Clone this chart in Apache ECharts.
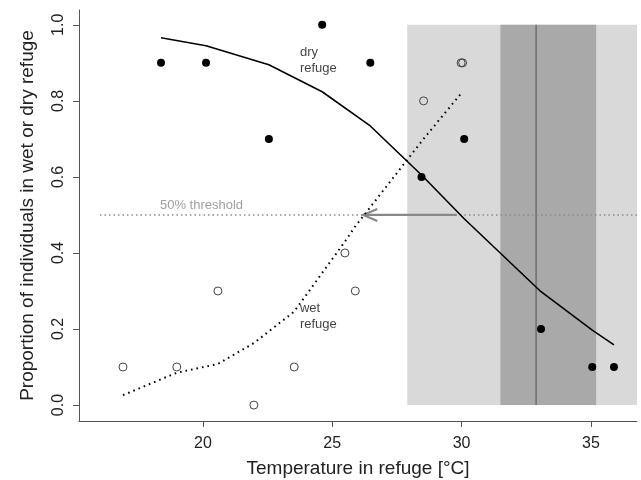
<!DOCTYPE html>
<html>
<head>
<meta charset="utf-8">
<script src="https://cdn.jsdelivr.net/npm/echarts@6/dist/echarts.min.js"></script>
<style>
  html, body { margin: 0; padding: 0; background: #fff; }
  #main { width: 641px; height: 480px; }
</style>
</head>
<body>
<div id="main"></div>
<script>
// observed proportions
const dryTemp = [18.38, 20.12, 22.55, 24.61, 26.47, 28.45, 30.10, 33.07, 35.05, 35.89]
const dryProp = [0.9, 0.9, 0.7, 1.0, 0.9, 0.6, 0.7, 0.2, 0.1, 0.1]
const wetTemp = [16.91, 18.99, 20.58, 21.97, 23.53, 25.49, 25.89, 28.53, 29.98, 30.04]
const wetProp = [0.1, 0.1, 0.3, 0.0, 0.1, 0.4, 0.3, 0.8, 0.9, 0.9]

// fitted curves (read at the data temperatures)
const dryFitTemp = [18.38, 20.12, 22.55, 24.61, 26.47, 28.45, 30.10, 33.07, 35.05, 35.89]
const dryFit = [0.966, 0.945, 0.895, 0.824, 0.734, 0.605, 0.49, 0.298, 0.197, 0.158]
const wetFitTemp = [16.91, 18.99, 20.58, 21.97, 23.53, 25.49, 25.89, 28.53, 30.01]
const wetFit = [0.026, 0.085, 0.108, 0.163, 0.246, 0.43, 0.47, 0.70, 0.822]

// shaded temperature ranges and mean
const lightBand = [27.9, 36.78]
const darkBand = [31.5, 35.2]
const meanTemp = 32.88

const threshold = 0.5
const thresholdStart = 16.02
const arrowFrom = 29.8
const arrowTo = 26.2

const xTicks = [20, 25, 30, 35]
const yTicks = [0, 0.2, 0.4, 0.6, 0.8, 1.0]

const font = 'Liberation Sans, Arial, sans-serif'
const zip = (a, b) => a.map((v, i) => [v, b[i]])

const chart = echarts.init(document.getElementById('main'))
chart.setOption({
    animation: false,
    grid: { left: 79, right: 4, top: 10, bottom: 59, outerBoundsMode: 'none', containLabel: false },
    xAxis: {
        type: 'value', min: 15.21, max: 36.78,
        name: 'Temperature in refuge [°C]', nameLocation: 'middle', nameGap: 38,
        nameTextStyle: { fontFamily: font, fontSize: 19, color: '#222' },
        axisLine: { show: true, onZero: false, lineStyle: { color: '#555', width: 1 } },
        axisTick: { show: true, length: 6, customValues: xTicks, lineStyle: { color: '#555' } },
        axisLabel: { customValues: xTicks, fontFamily: font, fontSize: 16, color: '#222', margin: 15 },
        splitLine: { show: false },
    },
    yAxis: {
        type: 'value', min: -0.042, max: 1.039,
        name: 'Proportion of individuals in wet or dry refuge', nameLocation: 'middle', nameGap: 42,
        nameTextStyle: { fontFamily: font, fontSize: 19, color: '#222' },
        axisLine: { show: true, onZero: false, lineStyle: { color: '#555', width: 1 } },
        axisTick: { show: true, length: 6, customValues: yTicks, lineStyle: { color: '#555' } },
        axisLabel: {
            customValues: yTicks, rotate: 90, fontFamily: font, fontSize: 16, color: '#222', margin: 12,
            formatter: v => v.toFixed(1),
        },
        splitLine: { show: false },
    },
    series: [
        {
            // temperature bands
            type: 'custom', z: 1, silent: true,
            data: [lightBand, darkBand],
            encode: { x: [0, 1] },
            renderItem: (params, api) => {
                const a = api.coord([api.value(0), 1])
                const b = api.coord([api.value(1), 0])
                return {
                    type: 'rect',
                    shape: { x: a[0], y: a[1], width: b[0] - a[0], height: b[1] - a[1] },
                    style: { fill: params.dataIndex === 0 ? '#d9d9d9' : '#a9a9a9' },
                }
            },
        },
        {
            // mean line
            type: 'custom', z: 2, silent: true,
            data: [[meanTemp]],
            encode: { x: 0 },
            renderItem: (params, api) => {
                const a = api.coord([api.value(0), 1])
                const b = api.coord([api.value(0), 0])
                return {
                    type: 'line',
                    shape: { x1: a[0], y1: a[1], x2: b[0], y2: b[1] },
                    style: { stroke: '#6e6e6e', lineWidth: 1.5 },
                }
            },
        },
        {
            // 50% threshold
            type: 'line', z: 3, silent: true, symbol: 'none',
            data: [[thresholdStart, threshold], [36.78, threshold]],
            lineStyle: { color: '#8a8a8a', width: 1.5, type: [1.5, 3] },
        },
        {
            // arrow
            type: 'custom', z: 4, silent: true,
            data: [[arrowFrom, threshold, arrowTo, threshold]],
            encode: { x: [0, 2], y: [1, 3] },
            renderItem: (params, api) => {
                const p0 = api.coord([api.value(0), api.value(1)])
                const p1 = api.coord([api.value(2), api.value(3)])
                return {
                    type: 'group',
                    children: [
                        {
                            type: 'line',
                            shape: { x1: p0[0], y1: p0[1], x2: p1[0], y2: p1[1] },
                            style: { stroke: '#888', lineWidth: 2.2 },
                        },
                        {
                            type: 'polyline',
                            shape: { points: [[p1[0] + 14, p1[1] - 6], [p1[0], p1[1]], [p1[0] + 14, p1[1] + 6]] },
                            style: { stroke: '#888', lineWidth: 2.2, fill: null },
                        },
                    ],
                }
            },
        },
        {
            type: 'line', z: 5, symbol: 'none',
            data: zip(dryFitTemp, dryFit),
            lineStyle: { color: '#000', width: 1.6 },
        },
        {
            type: 'line', z: 5, symbol: 'none',
            data: zip(wetFitTemp, wetFit),
            lineStyle: { color: '#000', width: 2, type: [1.6, 4] },
        },
        {
            type: 'scatter', z: 6, symbol: 'circle', symbolSize: 8,
            data: zip(dryTemp, dryProp),
            itemStyle: { color: '#000', opacity: 1 },
        },
        {
            type: 'scatter', z: 6, symbol: 'circle', symbolSize: 8,
            data: zip(wetTemp, wetProp),
            itemStyle: { color: 'rgba(0,0,0,0)', borderColor: '#444', borderWidth: 1, opacity: 1 },
        },
        {
            // text annotations
            type: 'scatter', z: 7, symbolSize: 0, silent: true,
            data: [
                { value: [23.75, 0.907, 'dry\nrefuge'] },
                { value: [23.75, 0.233, 'wet\nrefuge'] },
                { value: [18.34, 0.526, '50% threshold'], label: { color: '#888' } },
            ],
            label: {
                show: true, position: 'right', distance: 0,
                fontFamily: font, fontSize: 13, lineHeight: 16, color: '#111',
                formatter: p => p.value[2],
            },
        },
    ],
})
</script>
</body>
</html>
